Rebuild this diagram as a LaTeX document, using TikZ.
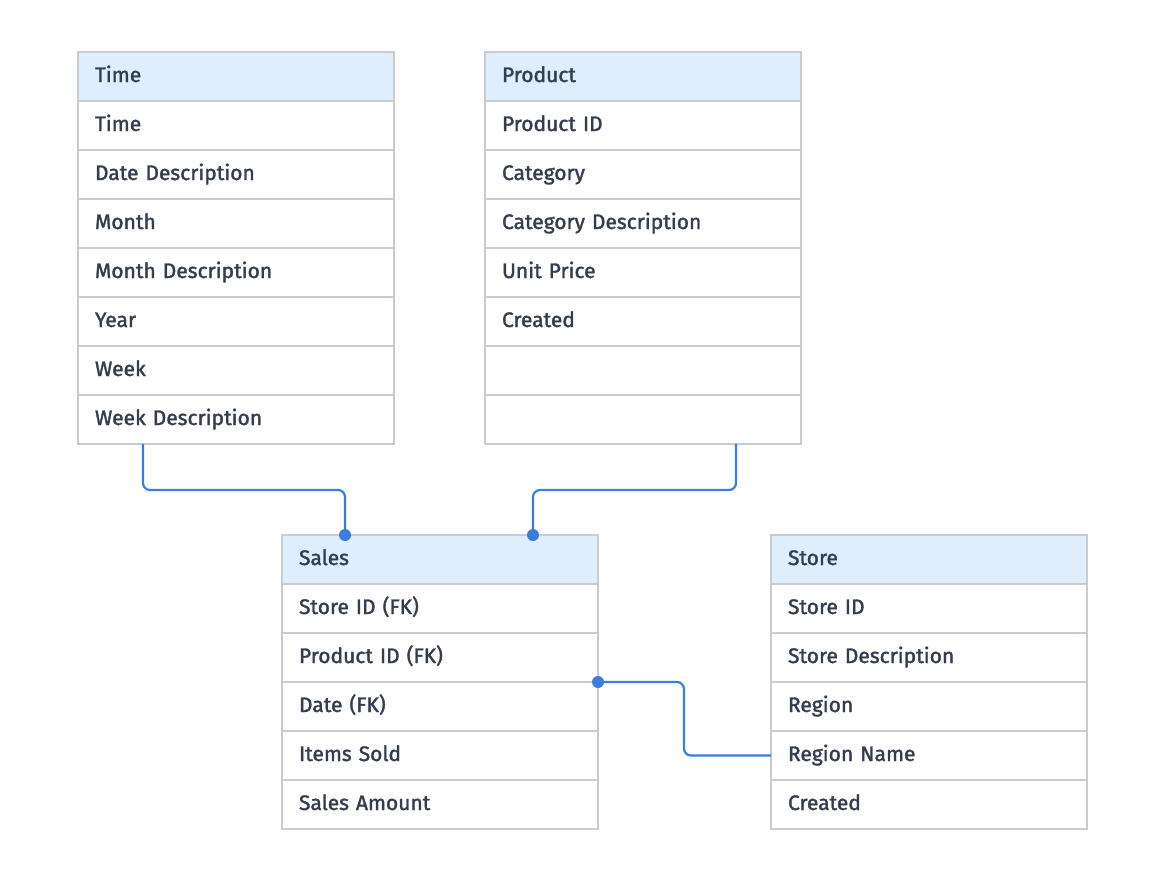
\documentclass[tikz,border=0pt]{standalone}
\usepackage{fontspec}
\setmainfont{Fira Sans}[FakeBold=1.6]
\usetikzlibrary{positioning}
\definecolor{hdrfill}{HTML}{DFEEFC}
\definecolor{rowline}{HTML}{C8CCD1}
\definecolor{txt}{HTML}{333D4F}
\definecolor{link}{HTML}{3B7DDD}
\tikzset{
  row/.style={draw=rowline, line width=1.2pt, minimum width=316pt, minimum height=49pt,
    outer sep=0pt, inner xsep=17pt, text width=282pt, text height=15pt, text depth=4pt,
    align=left, font=\fontsize{21}{24}\selectfont, text=txt},
  hdr/.style={row, fill=hdrfill},
  rel/.style={draw=link, line width=2.2pt, rounded corners=7pt},
  dot/.style={circle, fill=link, inner sep=0pt, minimum size=12pt}
}
\begin{document}
\begin{tikzpicture}[x=1pt,y=-1pt]
        \useasboundingbox (0,0) rectangle (1160,881);

        % Time table
        \node[hdr, anchor=north west] (time-0) at (78,52) {Time};
        \foreach \lbl [count=\i, remember=\i as \j (initially 0)] in {Time,Date Description,Month,Month Description,Year,Week,Week Description}
          \node[row, below=0pt of time-\j] (time-\i) {\lbl};

        % Product table
        \node[hdr, anchor=north west] (prod-0) at (485,52) {Product};
        \foreach \lbl [count=\i, remember=\i as \j (initially 0)] in {Product ID,Category,Category Description,Unit Price,Created,\strut,\strut}
          \node[row, below=0pt of prod-\j] (prod-\i) {\lbl};

        % Sales table
        \node[hdr, anchor=north west] (sales-0) at (282,535) {Sales};
        \foreach \lbl [count=\i, remember=\i as \j (initially 0)] in {Store ID (FK),Product ID (FK),Date (FK),Items Sold,Sales Amount}
          \node[row, below=0pt of sales-\j] (sales-\i) {\lbl};

        % Store table
        \node[hdr, anchor=north west] (store-0) at (771,535) {Store};
        \foreach \lbl [count=\i, remember=\i as \j (initially 0)] in {Store ID,Store Description,Region,Region Name,Created}
          \node[row, below=0pt of store-\j] (store-\i) {\lbl};

        % Relations
        \coordinate (t-out) at ([xshift=-93pt]time-7.south);
        \coordinate (s-in1) at ([xshift=-95pt]sales-0.north);
        \coordinate (p-out) at ([xshift=93pt]prod-7.south);
        \coordinate (s-in2) at ([xshift=93pt]sales-0.north);
        \draw[rel] (t-out) -- ++(0,46) -| (s-in1);
        \draw[rel] (p-out) -- ++(0,46) -| (s-in2);
        \draw[rel] (sales-2.south east) -- ++(86,0) |- (store-4.west);
        \node[dot] at (s-in1) {};
        \node[dot] at (s-in2) {};
        \node[dot] at (sales-2.south east) {};
\end{tikzpicture}
\end{document}
